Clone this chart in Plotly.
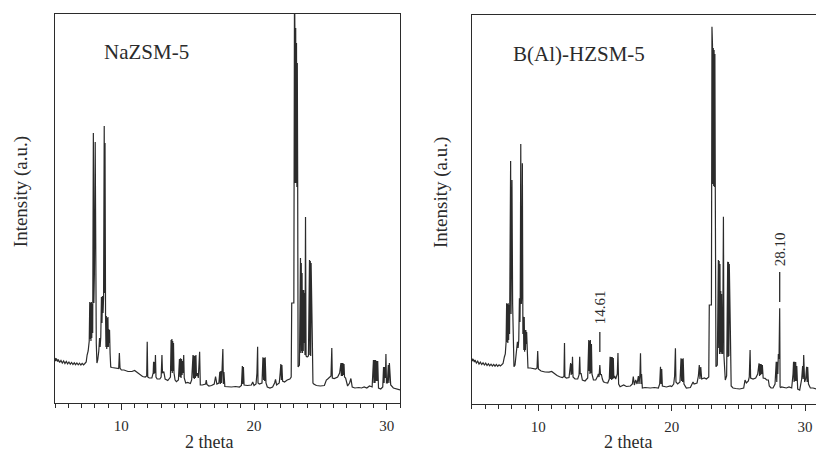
import plotly.graph_objects as go

# ---------------- NaZSM-5 powder pattern (2θ in degrees, intensity in counts) ----------------
two_theta_na = [
    5.00, 5.05, 5.10, 5.20, 5.25, 5.35, 5.45, 5.55, 5.65, 5.75, 5.85, 5.95, 6.05, 6.15, 6.25,
    6.35, 6.45, 6.55, 6.65, 6.75, 6.85, 6.95, 7.05, 7.15, 7.25, 7.35,
    7.42, 7.50, 7.58, 7.62, 7.65, 7.68, 7.71, 7.74, 7.77, 7.80, 7.84, 7.89, 7.93, 7.97, 8.03,
    8.07, 8.11, 8.16, 8.22, 8.30, 8.36, 8.40, 8.45, 8.50, 8.54, 8.58, 8.62, 8.66, 8.71, 8.74,
    8.77, 8.81, 8.84, 8.87, 8.90, 8.93, 8.96, 8.99, 9.02, 9.05, 9.08, 9.11, 9.15, 9.20,
    9.30, 9.50, 9.70, 9.80, 9.85, 9.90, 10.00, 10.20, 10.50, 10.80, 11.00, 11.20, 11.40, 11.60,
    11.80, 11.91, 11.95, 11.99, 12.10, 12.30, 12.40, 12.43, 12.46, 12.50, 12.53, 12.57, 12.61,
    12.70, 12.90, 13.00, 13.06, 13.10, 13.20, 13.30, 13.50, 13.70, 13.75, 13.78, 13.81, 13.84,
    13.87, 13.90, 13.93, 13.97, 14.05, 14.15, 14.30, 14.38, 14.42, 14.46, 14.50, 14.54, 14.58,
    14.62, 14.66, 14.70, 14.74, 14.85, 15.00, 15.20, 15.30, 15.40, 15.43, 15.46, 15.50, 15.54,
    15.58, 15.62, 15.66, 15.72, 15.80, 15.90, 15.95, 16.10, 16.35, 16.40, 16.45, 16.60, 16.80,
    17.00, 17.10, 17.20, 17.35, 17.42, 17.46, 17.50, 17.55, 17.60, 17.65, 17.69, 17.73, 17.80,
    18.00, 18.30, 18.60, 18.90, 19.05, 19.12, 19.15, 19.20, 19.25, 19.50, 19.80, 19.90, 20.00,
    20.15, 20.22, 20.27, 20.30, 20.40, 20.60, 20.67, 20.72, 20.76, 20.80, 20.84, 20.90, 21.00,
    21.20, 21.40, 21.55, 21.62, 21.70, 21.90, 21.97, 22.02, 22.06, 22.10, 22.15, 22.30, 22.50,
    22.70, 22.80,
    22.84, 23.00, 23.05, 23.08, 23.11, 23.14, 23.17, 23.20, 23.23, 23.26, 23.29, 23.32, 23.42,
    23.50, 23.53, 23.56, 23.59, 23.62, 23.65, 23.68, 23.71, 23.74, 23.77, 23.80, 23.84, 23.88,
    23.92, 24.00, 24.10, 24.18, 24.21, 24.24, 24.27, 24.30, 24.34, 24.38, 24.44, 24.50, 24.70,
    25.00, 25.30, 25.45, 25.55, 25.70, 25.80, 25.86, 25.90, 26.05, 26.30, 26.45, 26.55, 26.58,
    26.62, 26.66, 26.70, 26.74, 26.78, 26.82, 26.90, 27.05, 27.20, 27.30, 27.40, 27.60, 27.90,
    28.10, 28.30, 28.50, 28.70, 28.90, 29.00, 29.04, 29.08, 29.12, 29.16, 29.20, 29.24, 29.28,
    29.32, 29.38, 29.55, 29.70, 29.76, 29.80, 29.85, 29.90, 29.94, 29.98, 30.05, 30.12, 30.16,
    30.20, 30.24, 30.30, 30.50, 30.70, 31.00,
]
counts_na = [
    450, 420, 445, 415, 435, 405, 425, 400, 420, 395, 415, 392, 410, 388, 405,
    385, 402, 383, 400, 382, 398, 380, 396, 382, 395, 410,
    480, 520, 620, 1010, 640, 1000, 620, 1010, 650, 990, 700, 2700, 1000, 1300, 2610,
    1000, 600, 400, 430, 520, 650, 560, 660, 1060, 800, 1070, 900, 1050, 2770, 1100,
    2600, 860, 560, 870, 540, 850, 560, 860, 560, 740, 600, 730, 500, 360,
    355, 350, 348, 345, 500, 350, 330, 330, 315, 315, 325, 305, 290, 265,
    260, 270, 613, 260, 250, 250, 300, 413, 290, 410, 300, 480, 260,
    240, 240, 260, 480, 300, 313, 240, 225, 260, 630, 320, 640, 300,
    620, 320, 600, 300, 230, 213, 230, 440, 260, 447, 250, 440, 280,
    420, 300, 480, 250, 200, 205, 195, 230, 480, 250, 475, 240, 470,
    250, 480, 270, 300, 250, 513, 180, 180, 190, 230, 185, 170, 175,
    190, 265, 190, 200, 313, 190, 320, 200, 310, 540, 190, 310, 165,
    163, 160, 165, 160, 175, 370, 190, 360, 180, 175, 180, 210, 175,
    190, 300, 563, 200, 190, 200, 457, 230, 450, 220, 457, 200, 160,
    150, 160, 200, 237, 180, 200, 300, 390, 230, 380, 220, 210, 230,
    240, 260,
    1000, 1000, 4200, 3700, 2200, 3750, 2200, 3600, 2160, 3400, 2160, 360, 380,
    1450, 500, 1400, 520, 1300, 500, 1130, 520, 1130, 600, 1100, 480, 1860,
    470, 460, 470, 1430, 480, 1420, 470, 1400, 750, 750, 200, 190, 175,
    170, 175, 230, 240, 260, 270, 550, 250, 245, 260, 300, 400, 270,
    400, 270, 400, 280, 390, 260, 250, 170, 200, 245, 160, 150, 155,
    150, 160, 150, 170, 160, 430, 200, 430, 200, 430, 220, 420, 220,
    420, 150, 140, 160, 360, 200, 360, 250, 490, 200, 200, 380, 200,
    400, 200, 180, 150, 140, 130,
]

# ---------------- B(Al)-HZSM-5 powder pattern ----------------
two_theta_b = [
    5.00, 5.05, 5.10, 5.20, 5.25, 5.35, 5.45, 5.55, 5.65, 5.75, 5.85, 5.95, 6.05, 6.15, 6.25,
    6.35, 6.45, 6.55, 6.65, 6.75, 6.85, 6.95, 7.05, 7.15, 7.25, 7.35,
    7.45, 7.52, 7.58, 7.62, 7.65, 7.68, 7.71, 7.74, 7.77, 7.80, 7.84, 7.92, 7.95, 7.98, 8.02,
    8.07, 8.12, 8.17, 8.25, 8.35, 8.43, 8.48, 8.53, 8.58, 8.62, 8.64, 8.68, 8.72, 8.76, 8.80,
    8.84, 8.88, 8.91, 8.94, 8.97, 9.00, 9.03, 9.06, 9.09, 9.12, 9.16, 9.22,
    9.40, 9.60, 9.80, 9.90, 9.95, 10.00, 10.08, 10.20, 10.50, 10.80, 11.00, 11.20, 11.40, 11.60,
    11.80, 11.92, 11.96, 11.99, 12.10, 12.30, 12.42, 12.46, 12.50, 12.53, 12.56, 12.60, 12.75,
    12.95, 13.05, 13.10, 13.14, 13.20, 13.30, 13.50, 13.70, 13.78, 13.81, 13.84, 13.87, 13.90,
    13.94, 13.98, 14.02, 14.13, 14.30, 14.45, 14.50, 14.55, 14.61, 14.66, 14.72, 14.80, 14.88,
    15.00, 15.20, 15.32, 15.38, 15.42, 15.46, 15.50, 15.54, 15.58, 15.62, 15.66, 15.72, 15.80,
    15.92, 15.97, 16.02, 16.13, 16.40, 16.60, 16.90, 17.05, 17.12, 17.20, 17.30, 17.40, 17.50,
    17.55, 17.62, 17.66, 17.70, 17.74, 17.80, 18.00, 18.40, 18.70, 19.00, 19.10, 19.16, 19.20,
    19.25, 19.30, 19.60, 19.90, 20.00, 20.15, 20.22, 20.28, 20.32, 20.45, 20.62, 20.70, 20.74,
    20.78, 20.82, 20.86, 20.92, 21.10, 21.40, 21.60, 21.68, 21.90, 22.00, 22.07, 22.12, 22.18,
    22.25, 22.45, 22.60, 22.78,
    22.82, 22.98, 23.02, 23.06, 23.09, 23.12, 23.15, 23.18, 23.21, 23.24, 23.27, 23.32, 23.42,
    23.50, 23.53, 23.56, 23.59, 23.62, 23.65, 23.68, 23.71, 23.74, 23.78, 23.82, 23.88, 23.92,
    24.02, 24.12, 24.20, 24.23, 24.26, 24.29, 24.32, 24.36, 24.40, 24.46, 24.60, 24.80, 25.10,
    25.40, 25.50, 25.60, 25.75, 25.82, 25.88, 25.92, 26.10, 26.30, 26.45, 26.55, 26.59, 26.63,
    26.67, 26.71, 26.75, 26.80, 26.86, 27.00, 27.12, 27.25, 27.32, 27.45, 27.60, 27.75, 27.84,
    27.88, 27.92, 27.96, 28.00, 28.05, 28.10, 28.13, 28.18, 28.24, 28.40, 28.60, 28.80, 29.00,
    29.10, 29.14, 29.18, 29.22, 29.26, 29.30, 29.34, 29.38, 29.45, 29.60, 29.75, 29.82, 29.86,
    29.90, 29.97, 30.05, 30.12, 30.16, 30.20, 30.26, 30.40, 30.60, 30.85,
]
counts_b = [
    457, 430, 450, 420, 440, 410, 428, 400, 418, 395, 412, 390, 408, 385, 402,
    382, 398, 380, 396, 378, 395, 377, 392, 380, 392, 405,
    470, 500, 620, 1007, 620, 1000, 610, 1007, 640, 990, 700, 2430, 900, 1300, 2240,
    1000, 600, 373, 390, 500, 623, 560, 640, 1057, 820, 1050, 2600, 1000, 1100, 2407,
    700, 873, 540, 870, 523, 740, 540, 740, 600, 720, 560, 360,
    360, 355, 350, 360, 530, 350, 340, 330, 320, 318, 325, 300, 285, 273,
    265, 275, 610, 270, 260, 265, 410, 290, 400, 300, 473, 270, 250,
    250, 290, 473, 300, 310, 240, 230, 260, 640, 330, 630, 300, 640,
    310, 600, 300, 240, 240, 280, 300, 270, 390, 290, 300, 250, 223,
    215, 210, 250, 473, 250, 470, 240, 470, 250, 460, 260, 280, 250,
    300, 510, 200, 173, 190, 175, 180, 200, 273, 190, 240, 200, 280,
    200, 300, 507, 200, 300, 160, 165, 160, 165, 160, 200, 373, 200,
    350, 180, 170, 180, 175, 200, 280, 557, 220, 200, 220, 457, 230,
    450, 220, 457, 200, 160, 165, 220, 200, 210, 280, 390, 250, 370,
    250, 260, 250, 270,
    990, 990, 3773, 3590, 2200, 3560, 2180, 3540, 2170, 3500, 2173, 373, 390,
    1440, 560, 1430, 500, 1400, 520, 1130, 500, 1100, 550, 500, 1873, 480,
    240, 280, 1423, 470, 1420, 480, 1400, 740, 740, 180, 160, 155, 150,
    160, 240, 210, 230, 270, 540, 260, 250, 260, 300, 407, 280, 400,
    290, 400, 300, 390, 260, 257, 240, 240, 180, 160, 160, 200, 423,
    220, 423, 300, 500, 450, 957, 170, 165, 170, 165, 160, 170, 160,
    300, 423, 220, 423, 230, 420, 230, 380, 150, 140, 250, 380, 250,
    490, 220, 250, 373, 220, 370, 200, 160, 160, 150,
]

# labelled reflections of the boron sample
peak_positions = [14.61, 28.10]
peak_names = ["14.61", "28.10"]
marker_low = [520, 1020]
marker_high = [720, 1320]
label_centre = [965, 1545]

assert len(two_theta_na) == len(counts_na), (len(two_theta_na), len(counts_na))
assert len(two_theta_b) == len(counts_b), (len(two_theta_b), len(counts_b))

W, H = 816, 452
INK = "#2b2b2b"
SERIF = "Liberation Serif, Times New Roman, serif"


def fx(p):
    return p / W


def fy(p):
    return 1 - p / H


def x_axis(domain, rng, anchor):
    return dict(
        domain=domain, range=rng, anchor=anchor, showline=True, linecolor=INK, linewidth=1.3,
        mirror=True, ticks="outside", tick0=10, dtick=10, ticklen=6, tickwidth=1, tickcolor=INK,
        minor=dict(ticks="outside", tick0=0, dtick=1, ticklen=4, tickwidth=1, tickcolor=INK),
        tickfont=dict(family=SERIF, size=15, color=INK), ticklabelstandoff=3,
        showgrid=False, zeroline=False, fixedrange=True,
    )


def y_axis(domain, anchor, mirror):
    return dict(
        domain=domain, range=[0, 3890], anchor=anchor, showline=True, linecolor=INK,
        linewidth=1.3, mirror=mirror, ticks="", showticklabels=False, showgrid=False,
        zeroline=False, fixedrange=True,
    )


fig = go.Figure()
fig.add_trace(go.Scatter(x=two_theta_na, y=counts_na, mode="lines",
                         line=dict(color=INK, width=1.2), xaxis="x", yaxis="y"))
fig.add_trace(go.Scatter(x=two_theta_b, y=counts_b, mode="lines",
                         line=dict(color=INK, width=1.2), xaxis="x2", yaxis="y2"))

right_start = 471.7
right_end_deg = 5 + (W - right_start) / 13.333

fig.update_layout(
    width=W, height=H, margin=dict(l=0, r=0, t=0, b=0),
    paper_bgcolor="white", plot_bgcolor="white", showlegend=False,
    xaxis=x_axis([fx(55), fx(400)], [5, 31], "y"),
    yaxis=y_axis([fy(403), fy(14)], "x", True),
    xaxis2=x_axis([fx(right_start), 1.0], [5, right_end_deg], "y2"),
    yaxis2=y_axis([fy(404), fy(15)], "x2", False),
)

annotations = [
    dict(text="NaZSM-5", x=fx(146.5), y=fy(52), size=21),
    dict(text="B(Al)-HZSM-5", x=fx(579), y=fy(54), size=21),
    dict(text="2 theta", x=fx(209), y=fy(442), size=18),
    dict(text="2 theta", x=fx(627.5), y=fy(442), size=18),
    dict(text="Intensity (a.u.)", x=fx(21.7), y=fy(191.5), size=19, angle=-90),
    dict(text="Intensity (a.u.)", x=fx(441), y=fy(193), size=19, angle=-90),
]
for a in annotations:
    fig.add_annotation(
        text=a["text"], x=a["x"], y=a["y"], xref="paper", yref="paper",
        xanchor="center", yanchor="middle", showarrow=False,
        textangle=a.get("angle", 0), font=dict(family=SERIF, size=a["size"], color=INK),
    )

for pos, name, lo, hi, yc in zip(peak_positions, peak_names, marker_low, marker_high, label_centre):
    fig.add_shape(type="line", xref="x2", yref="y2", x0=pos, x1=pos, y0=lo, y1=hi,
                  line=dict(color=INK, width=1.3))
    fig.add_annotation(text=name, x=pos, y=yc, xref="x2", yref="y2", xanchor="center",
                       yanchor="middle", showarrow=False, textangle=-90,
                       font=dict(family=SERIF, size=15, color=INK))

fig.write_html("out.html", config={"displayModeBar": False})
